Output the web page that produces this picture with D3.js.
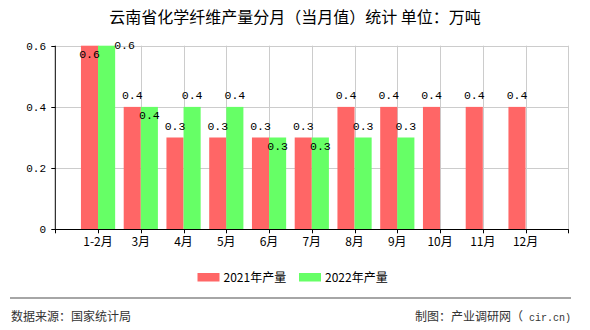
<!DOCTYPE html>
<html><head><meta charset="utf-8">
<script src="https://cdn.jsdelivr.net/npm/d3@7"></script>
<style>
html,body{margin:0;padding:0;background:#fff;}
svg{display:block;}
</style></head>
<body>
<svg id="chart" width="590" height="330"></svg>
<script>
const categories = ["1-2月","3月","4月","5月","6月","7月","8月","9月","10月","11月","12月"];
const series2021 = [0.6,0.4,0.3,0.3,0.3,0.3,0.4,0.4,0.4,0.4,0.4];
const series2022 = [0.6,0.4,0.4,0.4,0.3,0.3,0.3,0.3,null,null,null];
const seriesNames = ["2021年产量","2022年产量"];
const seriesColors = ["#ff6666","#66ff66"];
const yTicks = [0,0.2,0.4,0.6];
const yTickLabels = ["0","0.2","0.4","0.6"];
const titleText = "云南省化学纤维产量分月（当月值）统计 单位：万吨";
const sourceText = "数据来源：国家统计局";
const creditCjk = "制图：产业调研网（";
const creditLatin = " cir.cn)";

const svg = d3.select("#chart");
const L = 55.3, R = 568.3, T = 45.7, B = 229.3;
const step = (R - L) / (categories.length + 1);
const x = d3.scaleBand().domain(categories).range([L + step/2, R - step/2]).paddingInner(0).paddingOuter(0);
const xc = c => x(c) + x.bandwidth()/2;
const inner = d3.scaleBand().domain(seriesNames).range([0, x.bandwidth()]).paddingInner(0).paddingOuter(0.25);
const y = d3.scaleLinear().domain([0, 0.6]).range([B, T]);

const monoFont = "'Liberation Mono','DejaVu Sans Mono',monospace";
const cjkFont = "'Noto Sans CJK SC','Noto Sans',sans-serif";

// title
svg.append("text").attr("x", 295).attr("y", 23).attr("text-anchor","middle")
  .attr("font-family", cjkFont).attr("font-size", 16).attr("fill","#000").attr("xml:space","preserve").text(titleText);

// grid
const grid = svg.append("g");
yTicks.filter(v => v > 0).forEach(v => {
  grid.append("line").attr("x1", L).attr("x2", R).attr("y1", Math.round(y(v))+0.5).attr("y2", Math.round(y(v))+0.5)
    .attr("stroke","#cccccc").attr("stroke-width",1);
});
const vGrid = categories.map(xc).concat([R]);
vGrid.forEach(px => {
  grid.append("line").attr("x1", Math.round(px)+0.5).attr("x2", Math.round(px)+0.5).attr("y1", T).attr("y2", B)
    .attr("stroke","#cccccc").attr("stroke-width",1);
});

// bars
const seriesData = [series2021, series2022];
const bars = svg.append("g");
seriesData.forEach((vals, si) => {
  bars.selectAll(null).data(categories.map((c,i)=>({c, v: vals[i]})).filter(d => d.v != null))
    .enter().append("rect")
    .attr("x", d => x(d.c) + inner(seriesNames[si]))
    .attr("width", inner.bandwidth())
    .attr("y", d => y(d.v))
    .attr("height", d => B - y(d.v))
    .attr("fill", seriesColors[si]);
});

// axes
const ax = svg.append("g");
ax.append("line").attr("x1", L).attr("x2", L).attr("y1", T).attr("y2", B+0.5).attr("stroke","#000");
ax.append("line").attr("x1", L-0.5).attr("x2", R+0.5).attr("y1", Math.round(B)+0.5).attr("y2", Math.round(B)+0.5).attr("stroke","#000");
const xTickPos = [L].concat(categories.map(xc)).concat([R]);
xTickPos.forEach(px => {
  ax.append("line").attr("x1", Math.round(px)+0.5).attr("x2", Math.round(px)+0.5).attr("y1", B).attr("y2", B+4).attr("stroke","#000");
});
yTicks.forEach((v,i) => {
  ax.append("line").attr("x1", L-4).attr("x2", L).attr("y1", Math.round(y(v))+0.5).attr("y2", Math.round(y(v))+0.5).attr("stroke","#000");
  ax.append("text").attr("x", 46).attr("y", y(v)+4).attr("text-anchor","end")
    .attr("font-family", monoFont).attr("font-size", 11).attr("fill","#000").text(yTickLabels[i]);
});
categories.forEach(c => {
  ax.append("text").attr("x", xc(c)).attr("y", 246).attr("text-anchor","middle")
    .attr("font-family", cjkFont).attr("font-size", 12).attr("fill","#000").text(c);
});

// data labels
const fmt = d3.format(".1f");
const lab = svg.append("g").attr("font-family", monoFont).attr("font-size", 11.5).attr("fill","#000");
categories.forEach((c,i) => {
  const v1 = series2021[i], v2 = series2022[i];
  const x1 = x(c) + inner(seriesNames[0]) + inner.bandwidth()/2;
  const x2 = x(c) + inner(seriesNames[1]) + inner.bandwidth()/2;
  if (v1 != null) {
    const above = y(v1) - 8;
    if (above - 8 < T) {
      lab.append("text").attr("x", x1).attr("y", y(v1) + 12.5).attr("text-anchor","middle").text(fmt(v1));
    } else {
      lab.append("text").attr("x", x1).attr("y", above).attr("text-anchor","middle").text(fmt(v1));
    }
  }
  if (v2 != null) {
    const above = y(v2) - 8;
    if (above - 8 < T) {
      lab.append("text").attr("x", x2 + inner.bandwidth()/2 - 1).attr("y", y(v2) + 3.5).attr("text-anchor","start").text(fmt(v2));
    } else if (v1 != null && Math.abs(y(v1) - y(v2)) < 12) {
      lab.append("text").attr("x", x2).attr("y", y(v2) + 12.5).attr("text-anchor","middle").text(fmt(v2));
    } else {
      lab.append("text").attr("x", x2).attr("y", above).attr("text-anchor","middle").text(fmt(v2));
    }
  }
});

// legend
const lg = svg.append("g");
const legendX = [197.5, 299];
seriesNames.forEach((n,i) => {
  lg.append("rect").attr("x", legendX[i]).attr("y", 273).attr("width", 22).attr("height", 8.5).attr("fill", seriesColors[i]);
  lg.append("text").attr("x", legendX[i] + 26).attr("y", 281.5).attr("font-family", cjkFont).attr("font-size", 12)
    .attr("fill","#000").text(n);
});

// footer
svg.append("line").attr("x1", 10).attr("x2", 571).attr("y1", 298).attr("y2", 298).attr("stroke","#888").attr("stroke-width",1.5);
svg.append("text").attr("x", 11).attr("y", 320.5).attr("font-family", cjkFont).attr("font-size", 12).attr("fill","#333").text(sourceText);
const credit = svg.append("text").attr("x", 571).attr("y", 320.5).attr("text-anchor","end")
  .attr("font-family", cjkFont).attr("font-size", 12).attr("fill","#333").attr("xml:space","preserve");
credit.append("tspan").text(creditCjk);
credit.append("tspan").attr("font-family", monoFont).attr("font-size", 10).text(creditLatin);
</script>
</body></html>
